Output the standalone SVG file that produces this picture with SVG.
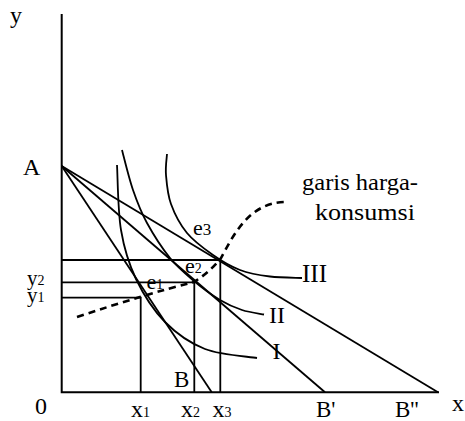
<svg xmlns="http://www.w3.org/2000/svg" width="465" height="421" viewBox="0 0 465 421">
<style>
.ln{fill:none;stroke:#000;stroke-width:1.8;stroke-linecap:butt}
.ax{fill:none;stroke:#000;stroke-width:2}
.ds{fill:none;stroke:#000;stroke-width:2.6;stroke-dasharray:7 5}
.lbl text{font-family:'Liberation Serif','Times New Roman','DejaVu Serif',serif;fill:#000}
.t{font-size:24px}
.s{font-size:14px}
</style>
<rect width="465" height="421" fill="#fff"/>
<g id="axes">
<path class="ax" d="M61.7,14 V392.3 H439"/>
</g>
<g id="connectors">
<path class="ln" d="M61.7,166 L211.7,392.3"/>
<path class="ln" d="M61.7,166 L325,392.3"/>
<path class="ln" d="M61.7,166 L438,392.3"/>
<path class="ln" d="M61.7,260 H220.3 V392.3"/>
<path class="ln" d="M61.7,282.3 H194.3 V392.3"/>
<path class="ln" d="M61.7,297.7 H140.7 V392.3"/>
</g>
<g id="curve-I">
<path class="ln" d="M117,165 C117.7,175.8 117.8,211 121,230 C124.2,249 128.7,263.7 136,279 C143.3,294.3 153.5,310.3 165,322 C176.5,333.7 189.7,343 205,349 C220.3,355 248.3,356.5 257,358"/>
</g>
<g id="curve-II">
<path class="ln" d="M122,150 C123.8,156.7 128.8,177.8 133,190 C137.2,202.2 140.8,211.7 147,223 C153.2,234.3 162.2,248.3 170,258 C177.8,267.7 185.7,274 194,281 C202.3,288 212,295.2 220,300 C228,304.8 234.7,307.6 242,310 C249.3,312.4 260.3,313.75 264,314.5"/>
</g>
<g id="curve-III">
<path class="ln" d="M167,154 C166.8,157.5 165.3,166.7 166,175 C166.7,183.3 167.5,194.3 171,204 C174.5,213.7 180,224.5 187,233 C194,241.5 204.2,248.8 213,255 C221.8,261.2 230.5,266.4 240,270 C249.5,273.6 259.7,275.2 270,276.5 C280.3,277.8 296.7,277.75 302,278"/>
</g>
<g id="price-consumption-curve">
<path class="ds" d="M77,317 Q110,306 140,297 Q170,288 194,282 Q210,272 221,258 C232,238 248,203 284,202"/>
</g>
<g id="labels" class="lbl" font-family="Liberation Serif, serif">
<text class="t" x="10" y="23">y</text>
<text class="t" x="23" y="175">A</text>
<text class="t" x="302" y="190" textLength="116" lengthAdjust="spacingAndGlyphs">garis harga-</text>
<text class="t" x="315" y="220" textLength="100" lengthAdjust="spacingAndGlyphs">konsumsi</text>
<text x="193" y="235" style="font-size:22px">e<tspan style="font-size:17px">3</tspan></text>
<text x="185" y="273" style="font-size:22px">e<tspan class="s">2</tspan></text>
<text x="146.5" y="289" style="font-size:22px">e<tspan class="s">1</tspan></text>
<text x="27" y="285" style="font-size:21px">y<tspan class="s">2</tspan></text>
<text x="27" y="302" style="font-size:21px">y<tspan class="s">1</tspan></text>
<text class="t" x="35" y="414">0</text>
<text class="t" x="131" y="417">x<tspan class="s">1</tspan></text>
<text class="t" x="181" y="417">x<tspan class="s">2</tspan></text>
<text class="t" x="212.5" y="417">x<tspan class="s">3</tspan></text>
<text x="174" y="387" style="font-size:23px">B</text>
<text x="316" y="417" style="font-size:23px">B'</text>
<text x="395" y="417" style="font-size:23px">B''</text>
<text class="t" x="452" y="411">x</text>
<text class="t" x="272.5" y="359">I</text>
<text class="t" x="269" y="323">II</text>
<text x="302" y="282" style="font-size:25px">III</text>
</g>
</svg>
